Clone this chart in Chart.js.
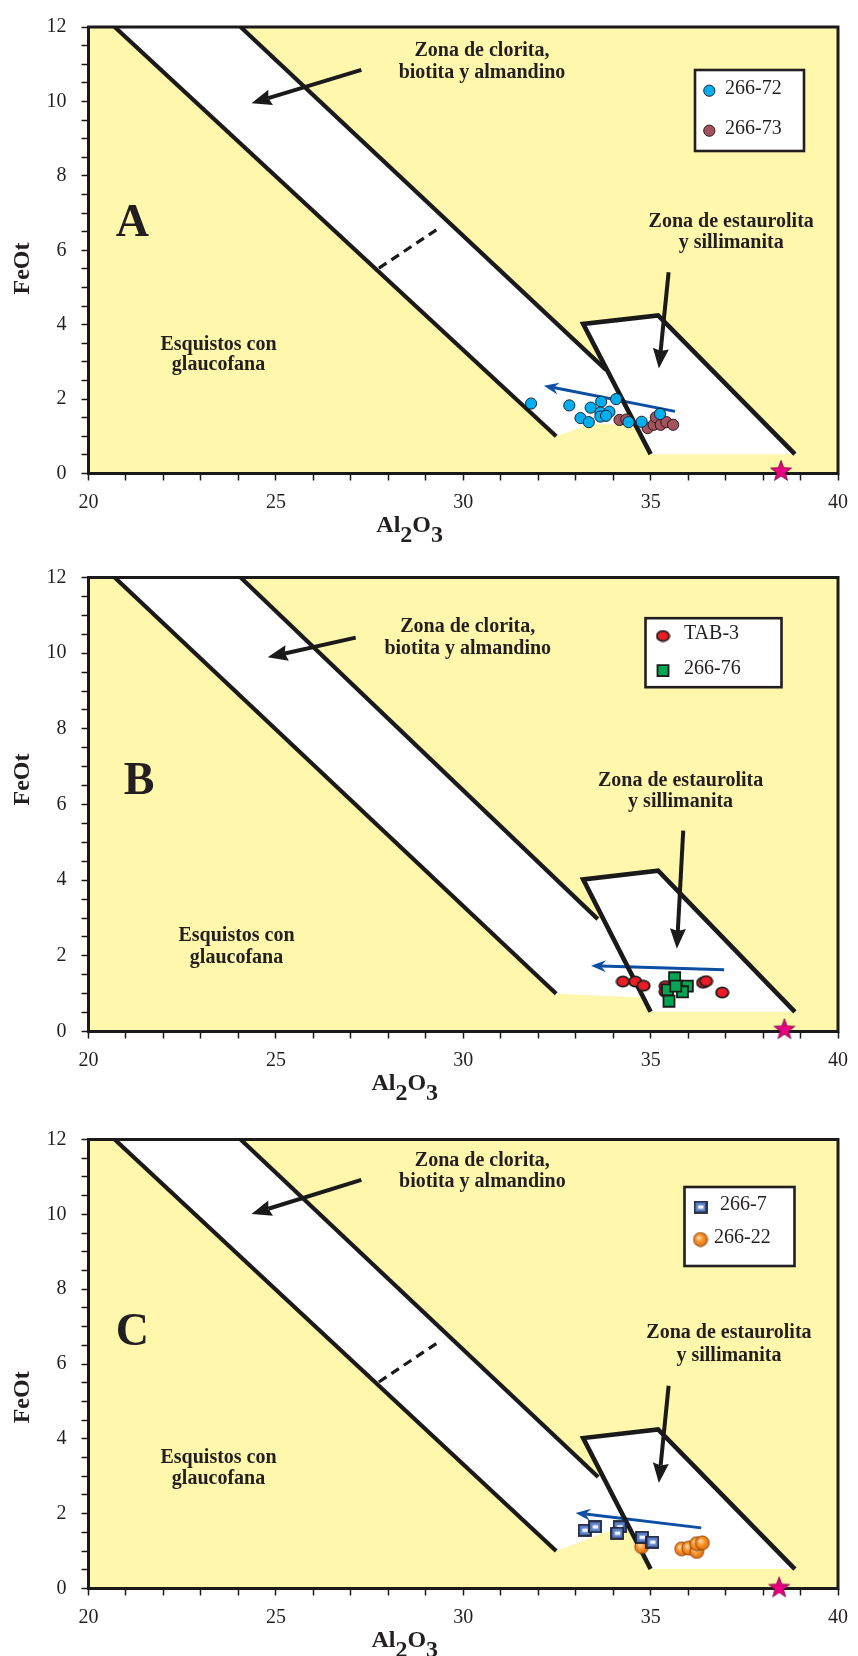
<!DOCTYPE html>
<html>
<head>
<meta charset="utf-8">
<title>FeOt vs Al2O3</title>
<script src="https://cdn.jsdelivr.net/npm/chart.js@4.4.1/dist/chart.umd.min.js"></script>
<style>
  html, body { margin: 0; padding: 0; background: #ffffff; }
  #wrap { position: relative; width: 858px; height: 1656px; overflow: hidden; }
  #wrap canvas { position: absolute; left: 0; }
</style>
</head>
<body>
<div id="wrap">
  <canvas id="panelA" width="858" height="550" style="top:0px"></canvas>
  <canvas id="panelB" width="858" height="560" style="top:550px"></canvas>
  <canvas id="panelC" width="858" height="546" style="top:1110px"></canvas>
</div>
<script>
// ---------- axis tick labels ----------
const feotTickLabels = [0, 2, 4, 6, 8, 10, 12];
const al2o3TickLabels = [20, 25, 30, 35, 40];

// ---------- panel A samples (Al2O3, FeOt) ----------
const s266_72_Al = [31.81, 32.83, 33.40, 33.68, 34.08, 33.13, 33.35, 33.66, 33.90, 33.66, 33.81, 34.41, 34.76, 35.25];
const s266_72_Fe = [1.88, 1.83, 1.77, 1.93, 2.00, 1.49, 1.38, 1.64, 1.66, 1.53, 1.55, 1.38, 1.39, 1.60];
const s266_73_Al = [34.17, 34.35, 34.92, 35.08, 35.14, 35.27, 35.42, 35.60];
const s266_73_Fe = [1.44, 1.45, 1.22, 1.31, 1.51, 1.31, 1.38, 1.31];

// ---------- panel B samples ----------
const tab3_Al = [34.26, 34.59, 34.81, 35.40, 35.40, 36.40, 36.48, 36.91];
const tab3_Fe = [1.32, 1.32, 1.21, 1.20, 1.05, 1.29, 1.33, 1.03];
const s266_76_Al = [35.64, 35.98, 35.85, 35.45, 35.49, 35.67];
const s266_76_Fe = [1.42, 1.20, 1.05, 1.10, 0.80, 1.20];

// ---------- panel C samples ----------
const s266_7_Al = [33.24, 33.52, 34.17, 34.11, 34.77, 35.05];
const s266_7_Fe = [1.56, 1.65, 1.65, 1.48, 1.37, 1.24];
const s266_22_Al = [34.76, 35.83, 36.02, 36.23, 36.23, 36.38];
const s266_22_Fe = [1.12, 1.06, 1.08, 0.99, 1.20, 1.22];

// ---------- reference composition (star), one per panel ----------
const refStarAl = [38.48, 38.57, 38.43];
const refStarFe = [0.07, 0.06, 0.03];

// ---------- zone boundaries [Al2O3, FeOt] ----------
const lowerBoundary = [[20.7, 12], [32.48, 1.0]];
const upperBoundaryA = [[24.06, 12], [33.81, 2.785]];
const upperBoundaryB = [[24.06, 12], [33.59, 2.97]];
const upperBoundaryC = [[24.06, 12], [33.60, 2.98]];
const staurolitePath = [[35.0, 0.52], [33.2, 4.02], [35.2, 4.25], [38.85, 0.52]];
const biotiteGarnetDash = [[27.75, 5.52], [29.39, 6.62]];
const bandFloorA = [[34.57, 1.32], [33.4, 1.33], [32.48, 1.0]];
const bandFloorB = [[33.74, 2.97], [34.81, 0.90], [32.48, 1.0]];
const bandFloorC = [[33.75, 2.98], [34.40, 1.70], [33.73, 1.475], [32.48, 1.0]];

// ---------- trend / pointer arrows [from, to] ----------
const chloriteArrowA = [[27.28, 10.85], [24.35, 9.95]];
const chloriteArrowB = [[27.13, 10.41], [24.78, 9.89]];
const chloriteArrowC = [[27.28, 10.92], [24.35, 10.01]];
const stauroliteArrowA = [[35.48, 5.41], [35.22, 2.82]];
const stauroliteArrowB = [[35.87, 5.31], [35.70, 2.19]];
const stauroliteArrowC = [[35.48, 5.42], [35.22, 2.82]];
const trendArrowA = [[35.65, 1.67], [32.15, 2.36]];
const trendArrowB = [[36.96, 1.63], [33.41, 1.74]];
const trendArrowC = [[36.35, 1.62], [33.00, 2.02]];

// ---------- styling ----------
const YELLOW = '#FFF7AC';
const INK = '#231F20';
const SERIF = "'Liberation Serif', 'Times New Roman', serif";

const pts = (xs, ys) => xs.map((v, i) => ({ x: v, y: ys[i] }));
const pairPts = (arr) => arr.map(([x, y]) => ({ x, y }));

function markerCanvas(w, h, paint) {
  const c = document.createElement('canvas');
  c.width = w; c.height = h;
  paint(c.getContext('2d'), w, h);
  return c;
}

const starMark = markerCanvas(24, 24, (g) => {
  g.beginPath();
  for (let i = 0; i < 10; i++) {
    const r = i % 2 === 0 ? 11 : 4.6;
    const a = -Math.PI / 2 + i * Math.PI / 5;
    const px = 12 + r * Math.cos(a), py = 12.5 + r * Math.sin(a);
    i === 0 ? g.moveTo(px, py) : g.lineTo(px, py);
  }
  g.closePath();
  g.fillStyle = '#E6007E';
  g.fill();
  g.lineWidth = 0.8;
  g.strokeStyle = '#6d0a3c';
  g.stroke();
});

const redOval = markerCanvas(15, 13, (g) => {
  g.beginPath();
  g.ellipse(7.5, 6.5, 6.2, 5.2, 0, 0, Math.PI * 2);
  g.fillStyle = '#EE1C25';
  g.fill();
  g.lineWidth = 1.8;
  g.strokeStyle = '#1d1d1d';
  g.stroke();
});

const blueTile = markerCanvas(14, 13, (g) => {
  g.fillStyle = '#5B7EC6';
  g.fillRect(1, 1, 12, 11);
  g.lineWidth = 1.8;
  g.strokeStyle = '#1c2236';
  g.strokeRect(1, 1, 12, 11);
  g.fillStyle = '#F1F4FB';
  g.fillRect(4.5, 4.8, 5.5, 3.6);
});

const orangeBall = markerCanvas(16, 16, (g) => {
  const grad = g.createRadialGradient(6, 6, 0.5, 8, 8, 7.5);
  grad.addColorStop(0, '#FFD9A8');
  grad.addColorStop(0.45, '#F8962A');
  grad.addColorStop(1, '#D9650C');
  g.beginPath();
  g.arc(8, 8, 7, 0, Math.PI * 2);
  g.fillStyle = grad;
  g.fill();
  g.lineWidth = 0.9;
  g.strokeStyle = '#8a4510';
  g.stroke();
});

function sampleSet(label, xs, ys, style, order) {
  return Object.assign({ label, data: pts(xs, ys), order, isSample: true }, style);
}
function boundary(points, extra) {
  return Object.assign({
    data: pairPts(points), showLine: true, pointRadius: 0, pointHoverRadius: 0,
    borderColor: '#1a1a1a', borderWidth: 4.2, borderCapStyle: 'butt',
    borderJoinStyle: 'miter', fill: false, tension: 0, order: 20
  }, extra || {});
}
function starSet(i) {
  return { label: 'ref', data: [{ x: refStarAl[i], y: refStarFe[i] }], pointStyle: starMark,
           order: 0, clip: false };
}

const styleCyan = { pointStyle: 'circle', pointRadius: 5.6, pointBackgroundColor: '#00AEEF',
                    pointBorderColor: '#1b2733', pointBorderWidth: 1 };
const styleBrown = { pointStyle: 'circle', pointRadius: 5.6, pointBackgroundColor: '#A2535E',
                     pointBorderColor: '#2a1618', pointBorderWidth: 1 };
const styleRed = { pointStyle: redOval };
const styleGreen = { pointStyle: 'rect', pointRadius: 7.8, pointBackgroundColor: '#00A651',
                     pointBorderColor: '#1a1a1a', pointBorderWidth: 1.8 };
const styleTile = { pointStyle: blueTile };
const styleOrange = { pointStyle: orangeBall };

// ---------- drawing helpers ----------
function tracePoly(ctx, sx, sy, poly) {
  ctx.beginPath();
  poly.forEach(([a, b], i) => {
    const px = sx.getPixelForValue(a), py = sy.getPixelForValue(b);
    i === 0 ? ctx.moveTo(px, py) : ctx.lineTo(px, py);
  });
  ctx.closePath();
}

function drawArrow(ctx, sx, sy, seg, o) {
  const x0 = sx.getPixelForValue(seg[0][0]), y0 = sy.getPixelForValue(seg[0][1]);
  const x1 = sx.getPixelForValue(seg[1][0]), y1 = sy.getPixelForValue(seg[1][1]);
  const len = Math.hypot(x1 - x0, y1 - y0);
  const ux = (x1 - x0) / len, uy = (y1 - y0) / len;
  const nx = -uy, ny = ux;
  const bx = x1 - ux * o.head, by = y1 - uy * o.head;
  const kx = x1 - ux * o.head * (1 - o.notch), ky = y1 - uy * o.head * (1 - o.notch);
  ctx.save();
  ctx.strokeStyle = o.color;
  ctx.fillStyle = o.color;
  ctx.lineWidth = o.width;
  ctx.lineCap = 'butt';
  ctx.beginPath();
  ctx.moveTo(x0, y0);
  ctx.lineTo(kx, ky);
  ctx.stroke();
  ctx.beginPath();
  ctx.moveTo(x1, y1);
  ctx.lineTo(bx + nx * o.half, by + ny * o.half);
  ctx.lineTo(kx, ky);
  ctx.lineTo(bx - nx * o.half, by - ny * o.half);
  ctx.closePath();
  ctx.fill();
  ctx.restore();
}

const BLACK_ARROW = { color: '#1a1a1a', width: 4, head: 20, half: 8, notch: 0.12 };
const BLUE_ARROW = { color: '#0B4EA2', width: 3, head: 15, half: 6, notch: 0.35 };

const diagramPlugin = {
  id: 'diagram',
  beforeDraw(chart, args, o) {
    const { ctx, chartArea: a, scales: { x, y } } = chart;
    ctx.save();
    ctx.fillStyle = YELLOW;
    ctx.fillRect(a.left, a.top, a.right - a.left, a.bottom - a.top);
    ctx.fillStyle = '#ffffff';
    o.whiteZones.forEach((poly) => { tracePoly(ctx, x, y, poly); ctx.fill(); });
    ctx.restore();
  },
  beforeDatasetsDraw(chart, args, o) {
    const { ctx, chartArea: a, scales: { x, y } } = chart;
    ctx.save();
    // zone captions
    ctx.fillStyle = INK;
    ctx.textAlign = 'center';
    ctx.textBaseline = 'middle';
    ctx.font = 'bold 20px ' + SERIF;
    o.captions.forEach((c) => ctx.fillText(c.text, x.getPixelForValue(c.at[0]), y.getPixelForValue(c.at[1])));
    ctx.font = 'bold 46px ' + SERIF;
    ctx.fillText(o.letter.text, x.getPixelForValue(o.letter.at[0]), y.getPixelForValue(o.letter.at[1]));
    ctx.restore();
    // arrows
    o.arrows.forEach((ar) => drawArrow(ctx, x, y, ar.seg, ar.style));
    // frame
    ctx.save();
    ctx.strokeStyle = '#1a1a1a';
    ctx.lineWidth = 3;
    ctx.strokeRect(a.left, a.top, a.right - a.left, a.bottom - a.top);
    ctx.restore();
  },
  afterDatasetsDraw(chart, args, o) {
    const { ctx, chartArea: a } = chart;
    const L = o.legend;
    ctx.save();
    const bx = a.left + L.box[0], by = a.top + L.box[1];
    ctx.fillStyle = '#ffffff';
    ctx.fillRect(bx, by, L.box[2], L.box[3]);
    ctx.lineWidth = 2.6;
    ctx.strokeStyle = INK;
    ctx.strokeRect(bx, by, L.box[2], L.box[3]);
    L.rows.forEach((r) => {
      const ds = chart.data.datasets[r.dataset];
      const mx = a.left + r.marker[0], my = a.top + r.marker[1];
      ctx.fillStyle = ds.pointBackgroundColor || '#000';
      ctx.strokeStyle = ds.pointBorderColor || '#000';
      ctx.lineWidth = ds.pointBorderWidth || 1;
      Chart.helpers.drawPoint(ctx, {
        pointStyle: ds.pointStyle, radius: ds.pointRadius || 5,
        borderWidth: ds.pointBorderWidth || 1, rotation: 0
      }, mx, my);
      ctx.fillStyle = INK;
      ctx.font = '20px ' + SERIF;
      ctx.textAlign = 'left';
      ctx.textBaseline = 'middle';
      ctx.fillText(ds.label, a.left + r.textX, my - 2);
    });
    ctx.restore();
  },
  afterDraw(chart, args, o) {
    const { ctx, chartArea: a, scales: { x, y } } = chart;
    ctx.save();
    ctx.fillStyle = INK;
    ctx.font = 'bold 24px ' + SERIF;
    // vertical title
    ctx.save();
    ctx.translate(23, y.getPixelForValue(o.feotAt));
    ctx.rotate(-Math.PI / 2);
    ctx.textAlign = 'center';
    ctx.textBaseline = 'middle';
    ctx.fillText('FeOt', 0, 0);
    ctx.restore();
    // horizontal title with subscripts
    const parts = [['Al', 0], ['2', 10], ['O', 0], ['3', 10]];
    const total = parts.reduce((s, p) => s + ctx.measureText(p[0]).width, 0);
    let cx = x.getPixelForValue(o.al2o3At) - total / 2;
    const base = a.bottom + 58;
    ctx.textAlign = 'left';
    ctx.textBaseline = 'alphabetic';
    parts.forEach(([t, dy]) => { ctx.fillText(t, cx, base + dy); cx += ctx.measureText(t).width; });
    ctx.restore();
  }
};

function buildPanel(id, area, datasets, opts) {
  const canvas = document.getElementById(id);
  const H = canvas.height;
  const yAxisW = 50, xAxisH = 40;
  const tickFont = { family: SERIF, size: 20 };
  const gridCommon = { drawOnChartArea: false, drawTicks: true, tickLength: 7,
                       tickWidth: 1.5, tickColor: '#1a1a1a', color: '#1a1a1a' };
  return new Chart(canvas, {
    type: 'scatter',
    data: { datasets },
    options: {
      responsive: false,
      animation: false,
      devicePixelRatio: 1,
      events: [],
      layout: { padding: { left: area.left - yAxisW, right: 858 - area.right,
                           top: area.top, bottom: H - area.bottom - xAxisH } },
      plugins: { legend: { display: false }, tooltip: { enabled: false }, diagram: opts },
      scales: {
        x: {
          type: 'linear', min: 20, max: 40,
          afterFit: (s) => { s.height = xAxisH; },
          border: { display: false },
          grid: gridCommon,
          ticks: { stepSize: 1, autoSkip: false, maxRotation: 0, padding: 10, color: INK,
                   font: tickFont,
                   callback: (v) => (al2o3TickLabels.includes(v) ? String(v) : '') }
        },
        y: {
          type: 'linear', min: 0, max: 12,
          afterFit: (s) => { s.width = yAxisW; },
          border: { display: false },
          grid: gridCommon,
          ticks: { stepSize: 0.5, autoSkip: false, padding: 15, color: INK,
                   font: tickFont,
                   callback: (v) => (feotTickLabels.includes(v) ? String(v) : '') }
        }
      }
    },
    plugins: [diagramPlugin]
  });
}

const stauroliteFill = staurolitePath;

// ----- panel A -----
buildPanel('panelA', { left: 88.5, right: 843.5, top: 22, bottom: 473.5 }, [
  sampleSet('266-72', s266_72_Al, s266_72_Fe, styleCyan, 2),
  sampleSet('266-73', s266_73_Al, s266_73_Fe, styleBrown, 3),
  starSet(0),
  boundary(lowerBoundary),
  boundary(upperBoundaryA),
  boundary(staurolitePath, { borderWidth: 4.6 }),
  boundary(biotiteGarnetDash, { borderWidth: 3.2, borderDash: [9, 6] })
], {
  whiteZones: [upperBoundaryA.concat(bandFloorA, [lowerBoundary[0]]), stauroliteFill],
  captions: [
    { text: 'Zona de clorita,', at: [30.50, 11.35] },
    { text: 'biotita y almandino', at: [30.50, 10.77] },
    { text: 'Zona de estaurolita', at: [37.15, 6.77] },
    { text: 'y sillimanita', at: [37.15, 6.20] },
    { text: 'Esquistos con', at: [23.47, 3.47] },
    { text: 'glaucofana', at: [23.47, 2.92] }
  ],
  letter: { text: 'A', at: [21.17, 6.70] },
  arrows: [
    { seg: chloriteArrowA, style: BLACK_ARROW },
    { seg: stauroliteArrowA, style: BLACK_ARROW },
    { seg: trendArrowA, style: BLUE_ARROW }
  ],
  legend: { box: [606.5, 43, 109, 81],
            rows: [{ dataset: 0, marker: [620.8, 63.7], textX: 636.5 },
                   { dataset: 1, marker: [620.8, 103.7], textX: 636.5 }] },
  feotAt: 5.51, al2o3At: 28.57
});

// ----- panel B -----
buildPanel('panelB', { left: 88.5, right: 843.5, top: 27.5, bottom: 481.5 }, [
  sampleSet('266-76', s266_76_Al, s266_76_Fe, styleGreen, 2),
  sampleSet('TAB-3', tab3_Al, tab3_Fe, styleRed, 3),
  starSet(1),
  boundary(lowerBoundary),
  boundary(upperBoundaryB),
  boundary(staurolitePath, { borderWidth: 4.6 })
], {
  whiteZones: [upperBoundaryB.concat(bandFloorB, [lowerBoundary[0]]), stauroliteFill],
  captions: [
    { text: 'Zona de clorita,', at: [30.12, 10.69] },
    { text: 'biotita y almandino', at: [30.12, 10.11] },
    { text: 'Zona de estaurolita', at: [35.80, 6.62] },
    { text: 'y sillimanita', at: [35.80, 6.07] },
    { text: 'Esquistos con', at: [23.95, 2.53] },
    { text: 'glaucofana', at: [23.95, 1.96] }
  ],
  letter: { text: 'B', at: [21.35, 6.60] },
  arrows: [
    { seg: chloriteArrowB, style: BLACK_ARROW },
    { seg: stauroliteArrowB, style: BLACK_ARROW },
    { seg: trendArrowB, style: BLUE_ARROW }
  ],
  legend: { box: [557, 40.7, 136, 69],
            rows: [{ dataset: 1, marker: [574.5, 58.5], textX: 595.5 },
                   { dataset: 0, marker: [574.5, 93.2], textX: 595.5 }] },
  feotAt: 6.66, al2o3At: 28.44
});

// ----- panel C -----
buildPanel('panelC', { left: 88.5, right: 843.5, top: 29.5, bottom: 478.5 }, [
  sampleSet('266-7', s266_7_Al, s266_7_Fe, styleTile, 2),
  sampleSet('266-22', s266_22_Al, s266_22_Fe, styleOrange, 3),
  starSet(2),
  boundary(lowerBoundary),
  boundary(upperBoundaryC),
  boundary(staurolitePath, { borderWidth: 4.6 }),
  boundary(biotiteGarnetDash, { borderWidth: 3.2, borderDash: [9, 6] })
], {
  whiteZones: [upperBoundaryC.concat(bandFloorC, [lowerBoundary[0]]), stauroliteFill],
  captions: [
    { text: 'Zona de clorita,', at: [30.51, 11.42] },
    { text: 'biotita y almandino', at: [30.51, 10.86] },
    { text: 'Zona de estaurolita', at: [37.09, 6.82] },
    { text: 'y sillimanita', at: [37.09, 6.23] },
    { text: 'Esquistos con', at: [23.47, 3.50] },
    { text: 'glaucofana', at: [23.47, 2.94] }
  ],
  letter: { text: 'C', at: [21.17, 6.82] },
  arrows: [
    { seg: chloriteArrowC, style: BLACK_ARROW },
    { seg: stauroliteArrowC, style: BLACK_ARROW },
    { seg: trendArrowC, style: BLUE_ARROW }
  ],
  legend: { box: [596, 47.5, 110, 79],
            rows: [{ dataset: 0, marker: [612, 67.5], textX: 631.5 },
                   { dataset: 1, marker: [612, 100], textX: 625.5 }] },
  feotAt: 5.11, al2o3At: 28.44
});
</script>
</body>
</html>
